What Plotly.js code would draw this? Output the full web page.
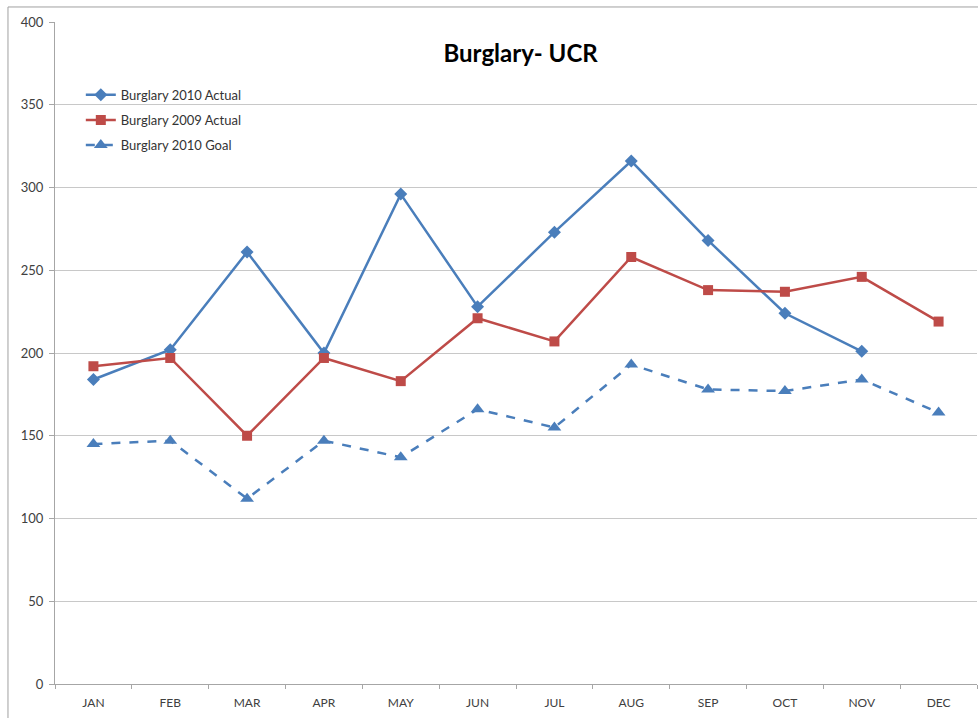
<!DOCTYPE html>
<html>
<head>
<meta charset="utf-8">
<script src="https://cdn.plot.ly/plotly-3.0.1.min.js"></script>
<style>html,body{margin:0;padding:0;background:#fff;}#chart{width:978px;height:718px;}</style>
</head>
<body>
<div id="chart"></div>
<script>
const months = ["JAN","FEB","MAR","APR","MAY","JUN","JUL","AUG","SEP","OCT","NOV","DEC"];
const actual2010 = [184, 202, 261, 200, 296, 228, 273, 316, 268, 224, 201, null];
const actual2009 = [192, 197, 150, 197, 183, 221, 207, 258, 238, 237, 246, 219];
const goal2010 = [145, 147, 112, 147, 137, 166, 155, 193, 178, 177, 184, 164];
const names = ["Burglary 2010 Actual", "Burglary 2009 Actual", "Burglary 2010 Goal"];
const yTicks = [0, 50, 100, 150, 200, 250, 300, 350, 400];

const blue = "#4a7ebb", red = "#be4b48";
const traces = [
  {x: months, y: actual2010, name: names[0], type: "scatter", mode: "lines+markers", showlegend: true,
   line: {color: blue, width: 2.5}, marker: {symbol: "diamond", size: 10, color: blue}, legend: "legend"},
  {x: months, y: actual2009, name: names[1], type: "scatter", mode: "lines+markers", showlegend: true,
   line: {color: red, width: 2.5}, marker: {symbol: "square", size: 10, color: red}, legend: "legend2"},
  {x: months, y: goal2010, name: names[2], type: "scatter", mode: "lines+markers", showlegend: true,
   line: {color: blue, width: 2.5, dash: "dash"}, marker: {symbol: "triangle-up", size: 12, color: blue}, legend: "legend3"}
];
const legFont = {family: "Lato, 'Open Sans', sans-serif", size: 13, color: "#333"};
const legBase = {x: 0.028, xanchor: "left", yanchor: "middle", bgcolor: "rgba(0,0,0,0)", font: legFont, borderwidth: 0, visible: true};
const layout = {
  width: 978, height: 718,
  margin: {l: 55, r: 1, t: 22, b: 34},
  showlegend: true,
  paper_bgcolor: "#fff", plot_bgcolor: "#fff",
  font: {family: "Lato, 'Open Sans', sans-serif", color: "#595959"},
  title: {text: "<b>Burglary- UCR</b>", font: {size: 24, color: "#000", family: "Lato, 'Open Sans', sans-serif"},
          x: 0.505, xref: "paper", xanchor: "center", y: 0.953, yref: "paper", yanchor: "middle"},
  xaxis: {type: "category", categoryarray: months, range: [-0.5, 11.5], showgrid: false,
          showline: true, linecolor: "#a6a6a6", linewidth: 1, ticks: "outside", tickson: "boundaries",
          ticklen: 4, tickcolor: "#a6a6a6", tickfont: {size: 12, color: "#404040"}, ticklabelstandoff: 8,
          zeroline: false, fixedrange: true},
  yaxis: {range: [0, 400], tickvals: yTicks, ticktext: yTicks.map(String), showgrid: true, gridcolor: "#c8c8c8",
          gridwidth: 1, showline: true, linecolor: "#a6a6a6", ticks: "outside", ticklen: 5, tickcolor: "#a6a6a6",
          tickfont: {size: 13, color: "#404040"}, ticklabelstandoff: 3, zeroline: false, fixedrange: true},
  legend: Object.assign({}, legBase, {y: 0.89}),
  legend2: Object.assign({}, legBase, {y: 0.852}),
  legend3: Object.assign({}, legBase, {y: 0.814}),
  shapes: [{type: "rect", xref: "paper", yref: "paper", x0: -0.051, x1: 1.2, y0: -0.3, y1: 1.0227,
            line: {color: "#a0a0a0", width: 1}, fillcolor: "rgba(0,0,0,0)", layer: "below"}]
};
Plotly.newPlot("chart", traces, layout, {displayModeBar: false, staticPlot: true});
</script>
</body>
</html>
